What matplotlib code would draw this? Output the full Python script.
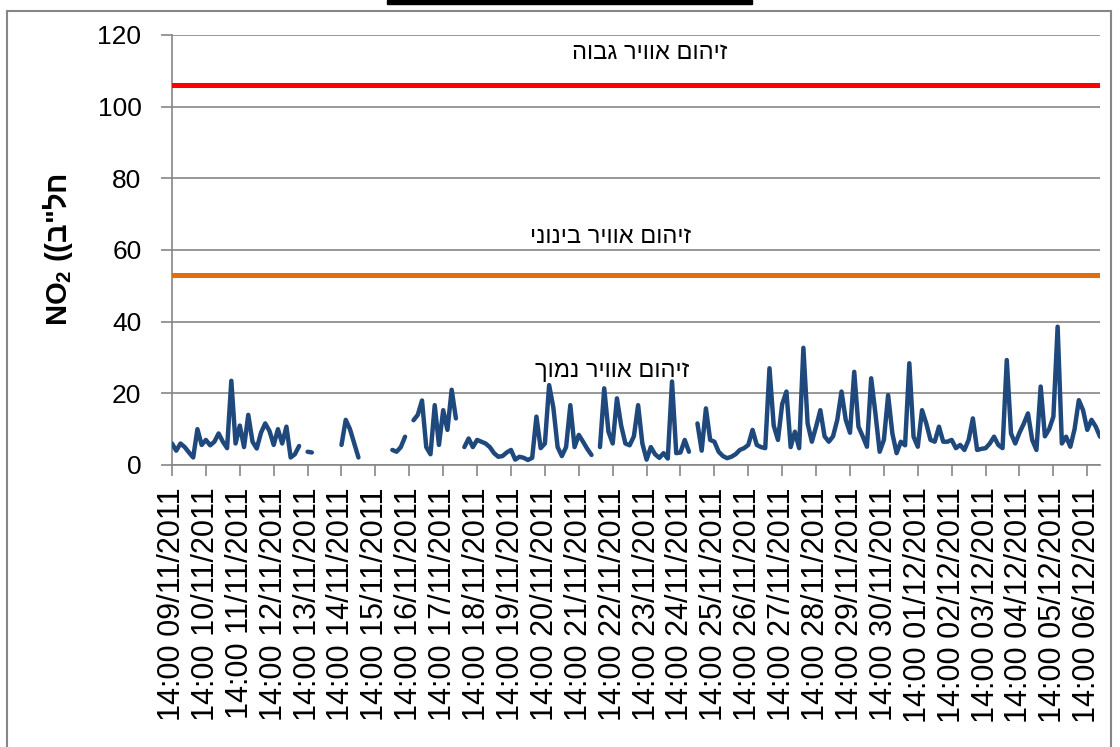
import matplotlib
matplotlib.use('Agg')
import matplotlib.pyplot as plt
import matplotlib.dates as mdates
import matplotlib.transforms as mtransforms
from matplotlib.patches import Rectangle
import numpy as np

nan = np.nan

# NO2 readings, 3-hourly, starting 09/11/2011 14:00 (one row per day)
no2 = [
    6, 4, 6, 5, 3.5, 2.1, 10, 5.6,
    7, 5.5, 6.5, 8.8, 6.5, 4.7, 23.5, 6,
    11, 5, 14, 6.5, 4.6, 9, 11.6, 9.5,
    5.6, 10, 6, 10.7, 2.1, 3, 5.3, nan,
    3.7, 3.5, nan, nan, nan, nan, nan, nan,
    5.6, 12.6, 10, 6, 2.1, nan, nan, nan,
    nan, nan, nan, nan, 4.2, 3.7, 5, 7.9,
    nan, 12.5, 14, 18, 5, 3, 16.7, 5.6,
    15.3, 9.8, 21, 13, nan, 5, 7.4, 5,
    7, 6.5, 6, 5, 3.3, 2.3, 2.5, 3.5,
    4.2, 1.5, 2.3, 2, 1.4, 2, 13.5, 4.7,
    6, 22.3, 16, 5, 2.5, 5, 16.7, 5,
    8.4, 6.5, 4.5, 2.8, nan, 5, 21.4, 9.3,
    6, 18.6, 11, 6, 5.5, 8, 16.7, 6,
    1.5, 5, 3, 2, 3.3, 1.8, 23.3, 3.3,
    3.5, 7, 3.7, nan, 11.6, 4, 15.8, 7,
    6.5, 3.7, 2.5, 1.9, 2.3, 3, 4.2, 4.7,
    5.6, 9.8, 5.6, 5, 4.7, 27, 11, 7,
    17, 20.5, 5, 9.3, 4.7, 32.7, 11.6, 6.5,
    10.7, 15.3, 8, 6.5, 8, 12.6, 20.5, 12.6,
    9, 26, 10.7, 8, 5.1, 24.2, 14.4, 3.7,
    7, 19.5, 8.8, 3.3, 6.5, 5.5, 28.4, 7.9,
    5.1, 15.3, 11.6, 7, 6.5, 10.7, 6.5, 6.5,
    7, 4.7, 5.6, 4.2, 7, 13, 4.2, 4.5,
    4.7, 6, 7.9, 5.6, 4.7, 29.3, 8.8, 6,
    9, 11.5, 14.4, 7, 4.2, 21.9, 8, 10,
    13.5, 38.6, 6, 7.9, 5.1, 10, 18.1, 15.3,
    9.8, 12.6, 10.7, 7.9,
]

high_level = 106
medium_level = 53
labels = ['זיהום אוויר גבוה', 'זיהום אוויר בינוני', 'זיהום אוויר נמוך']
label_y = [115, 63.5, 26.3]
unit = 'חל"ב'


def visual(s):
    # matplotlib has no bidi support, so draw Hebrew in visual order
    return s[::-1]


plt.rcParams['font.family'] = ['Liberation Sans', 'DejaVu Sans']
plt.rcParams['mathtext.fontset'] = 'custom'
plt.rcParams['mathtext.bf'] = 'Liberation Sans:bold'
plt.rcParams['mathtext.rm'] = 'Liberation Sans'

start = np.datetime64('2011-11-09T14:00')
times = start + np.arange(len(no2)) * np.timedelta64(3, 'h')
ticks = start + np.arange(28) * np.timedelta64(1, 'D')

fig = plt.figure(figsize=(11.2, 7.47), dpi=100)
ax = fig.add_axes([172/1120, 1-465/747, 928/1120, 430/747])

grey = '#868686'
ax.plot(times, no2, color='#1F497D', lw=3.2, solid_capstyle='round',
        solid_joinstyle='round', zorder=3)
ax.axhline(high_level, color='#FF0000', lw=3.6, zorder=3)
ax.axhline(medium_level, color='#E46C0A', lw=3.6, zorder=3)

ax.set_ylim(0, 120)
ax.set_yticks(np.arange(0, 121, 20))
ax.set_xlim(times[0], times[-1])
ax.set_xticks(ticks)
ax.xaxis.set_major_formatter(mdates.DateFormatter('%H:%M %d/%m/%Y'))
ax.tick_params(axis='x', labelrotation=90, labelsize=22, length=8,
               color=grey, width=1.2, pad=8)
ax.tick_params(axis='y', labelsize=19, length=8, color=grey, width=1.2, pad=14)
ax.yaxis.grid(True, color=grey, lw=1.2)
ax.set_axisbelow(True)
for side in ['top', 'right']:
    ax.spines[side].set_visible(False)
for side in ['left', 'bottom']:
    ax.spines[side].set_color(grey)
    ax.spines[side].set_linewidth(1.2)

ax.set_ylabel('NO$_\\mathbf{2}$ ((' + visual(unit), fontsize=21,
              fontweight='bold', labelpad=16)

trans = mtransforms.blended_transform_factory(ax.transAxes, ax.transData)
label_x = [0.515, 0.473, 0.474]
for txt, lx, ly in zip(labels, label_x, label_y):
    ax.text(lx, ly, visual(txt), transform=trans, ha='center', va='center',
            fontsize=17, family=['Liberation Sans', 'DejaVu Sans'])

# chart frame and cut-off title box
fig.patches.append(Rectangle((7/1120, -0.05), 1104/1120, 1.05 - 11/747,
                             transform=fig.transFigure, fill=False,
                             edgecolor=grey, lw=1.5))
fig.patches.append(Rectangle((387/1120, 1-4/747), 365/1120, 4/747,
                             transform=fig.transFigure, color='black'))

plt.savefig('out.png', dpi=100)
